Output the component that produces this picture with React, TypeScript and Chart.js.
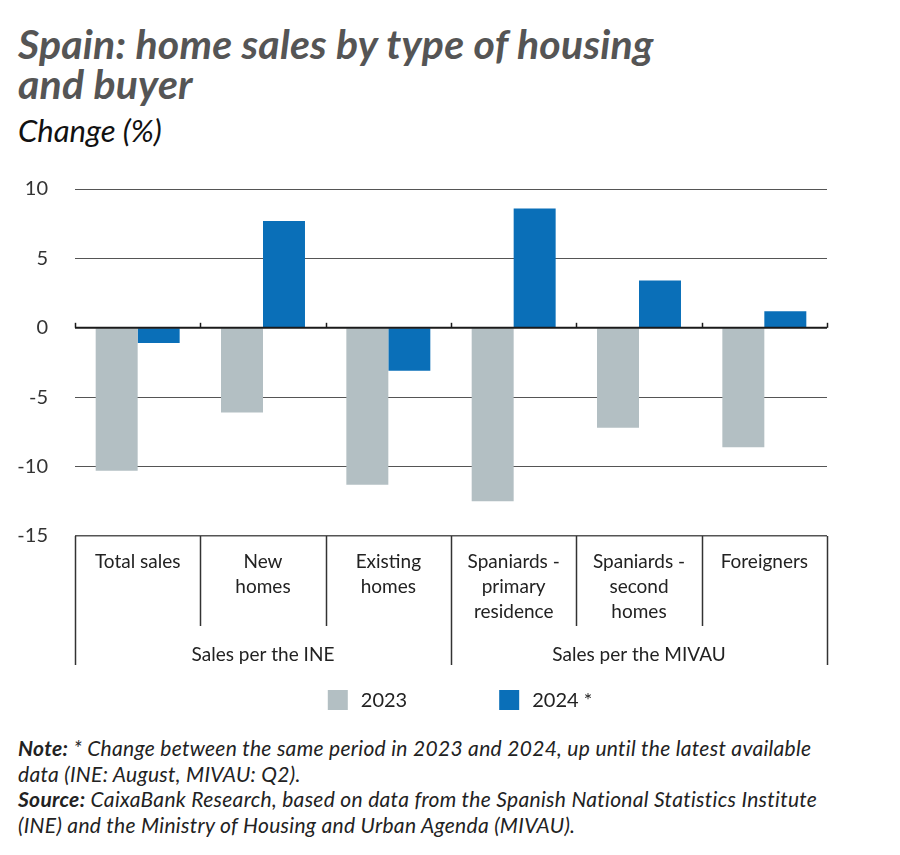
import React, { useEffect, useRef } from "react";
import { Chart, registerables } from "chart.js";

Chart.register(...registerables);

const categories: string[][] = [
  ["Total sales"],
  ["New", "homes"],
  ["Existing", "homes"],
  ["Spaniards -", "primary", "residence"],
  ["Spaniards -", "second", "homes"],
  ["Foreigners"],
];
const groupLabels = ["Sales per the INE", "Sales per the MIVAU"];
const groupSizes = [3, 3];
const values2023 = [-10.3, -6.1, -11.3, -12.5, -7.2, -8.6];
const values2024 = [-1.1, 7.7, -3.1, 8.6, 3.4, 1.2];
const seriesNames = ["2023", "2024 *"];
const seriesColors = ["#b3bfc3", "#0a6fb8"];
const yMin = -15;
const yMax = 10;
const yStep = 5;

const FONT = "Lato, 'Noto Sans', sans-serif";

const customPlugin = {
  id: "customDecor",
  afterDatasetsDraw(chart: any) {
    const { ctx, chartArea } = chart;
    const xs = chart.scales.x;
    const ys = chart.scales.y;
    const n = categories.length;
    const half = (xs.getPixelForValue(1) - xs.getPixelForValue(0)) / 2;
    const bnd = (i: number) =>
      i < n ? xs.getPixelForValue(i) - half : xs.getPixelForValue(n - 1) + half;
    const y0 = ys.getPixelForValue(0);
    ctx.save();
    // zero line
    ctx.strokeStyle = "#1a1a1a";
    ctx.lineWidth = 2;
    ctx.beginPath();
    ctx.moveTo(chartArea.left, y0);
    ctx.lineTo(chartArea.right, y0);
    ctx.stroke();
    // ticks on zero line
    ctx.lineWidth = 1.5;
    for (let i = 0; i <= n; i++) {
      const x = Math.round(bnd(i)) + 0.5;
      ctx.beginPath();
      ctx.moveTo(x, y0);
      ctx.lineTo(x, y0 - 5);
      ctx.stroke();
    }
    // separators below axis
    const bottom = chartArea.bottom;
    const groupEdges = new Set<number>([0]);
    let acc = 0;
    groupSizes.forEach((g) => {
      acc += g;
      groupEdges.add(acc);
    });
    ctx.strokeStyle = "#333";
    ctx.lineWidth = 1.5;
    for (let i = 0; i <= n; i++) {
      const x = Math.round(bnd(i)) + 0.5;
      const len = groupEdges.has(i) ? 129 : 90;
      ctx.beginPath();
      ctx.moveTo(x, bottom);
      ctx.lineTo(x, bottom + len);
      ctx.stroke();
    }
    // category labels
    ctx.fillStyle = "#222";
    ctx.font = `19px ${FONT}`;
    ctx.textAlign = "center";
    ctx.textBaseline = "middle";
    categories.forEach((lines, i) => {
      const cx = xs.getPixelForValue(i);
      lines.forEach((ln, j) => {
        ctx.fillText(ln, cx, bottom + 26 + j * 25);
      });
    });
    // group labels
    let start = 0;
    groupSizes.forEach((g, k) => {
      const cx = (bnd(start) + bnd(start + g)) / 2;
      ctx.fillText(groupLabels[k], cx, bottom + 119);
      start += g;
    });
    // legend
    ctx.font = `20px ${FONT}`;
    ctx.textAlign = "left";
    const box = 20;
    const gapText = 13;
    const gapItems = 92;
    const widths = seriesNames.map((s) => box + gapText + ctx.measureText(s).width);
    const total = widths.reduce((a, b) => a + b, 0) + gapItems * (widths.length - 1);
    let lx = (chartArea.left + chartArea.right) / 2 - total / 2 + 9;
    const ly = bottom + 164;
    seriesNames.forEach((s, k) => {
      ctx.fillStyle = seriesColors[k];
      ctx.fillRect(lx, ly - box / 2, box, box);
      ctx.fillStyle = "#222";
      ctx.fillText(s, lx + box + gapText, ly + 1);
      lx += widths[k] + gapItems;
    });
    ctx.restore();
  },
};

function ChartCanvas() {
  const ref = useRef<HTMLCanvasElement | null>(null);
  useEffect(() => {
    if (!ref.current) return;
    const chart = new Chart(ref.current, {
      type: "bar",
      data: {
        labels: categories.map((c) => c.join(" ")),
        datasets: [
          {
            label: seriesNames[0],
            data: values2023,
            backgroundColor: seriesColors[0],
            borderWidth: 0,
            categoryPercentage: 0.67,
            barPercentage: 1.0,
          },
          {
            label: seriesNames[1],
            data: values2024,
            backgroundColor: seriesColors[1],
            borderWidth: 0,
            categoryPercentage: 0.67,
            barPercentage: 1.0,
          },
        ],
      },
      options: {
        responsive: false,
        animation: false,
        layout: { padding: { top: 18, right: 73, left: 0, bottom: 0 } },
        plugins: {
          legend: { display: false },
          tooltip: { enabled: false },
          title: { display: false },
        },
        scales: {
          x: {
            ticks: { display: false },
            grid: { display: false },
            border: { display: false },
            afterFit: (s: any) => {
              s.height = 184;
            },
          },
          y: {
            min: yMin,
            max: yMax,
            ticks: {
              stepSize: yStep,
              padding: 27,
              color: "#333",
              font: { family: FONT, size: 20 },
            },
            grid: {
              drawTicks: false,
              color: (c: any) => (c.tick && c.tick.value === 0 ? "rgba(0,0,0,0)" : "#555"),
              lineWidth: (c: any) => (c.tick && c.tick.value === yMin ? 1.5 : 1),
            },
            border: { display: false },
            afterFit: (s: any) => {
              s.width = 75;
            },
          },
        },
      },
      plugins: [customPlugin],
    });
    return () => chart.destroy();
  }, []);
  return <canvas ref={ref} width={900} height={570} style={{ display: "block" }} />;
}

export default function App() {
  useEffect(() => {
    document.body.style.margin = "0";
  }, []);
  return (
    <div style={{ position: "relative", width: 900, height: 855, background: "#fff", fontFamily: FONT, overflow: "hidden" }}>
      <div
        style={{
          position: "absolute",
          left: 18,
          top: 24,
          fontSize: 41,
          lineHeight: "40px",
          fontWeight: 700,
          fontStyle: "italic",
          color: "#555",
          letterSpacing: "0.2px",
          whiteSpace: "nowrap",
        }}
      >
        Spain: home sales by type of housing
        <br />
        and buyer
      </div>
      <div
        style={{
          position: "absolute",
          left: 18,
          top: 112,
          fontSize: 31,
          lineHeight: "36px",
          fontStyle: "italic",
          color: "#111",
        }}
      >
        Change (%)
      </div>
      <div style={{ position: "absolute", left: 0, top: 150 }}>
        <ChartCanvas />
      </div>
      <div
        style={{
          position: "absolute",
          left: 18,
          top: 735,
          width: 882,
          fontSize: 21,
          lineHeight: "25.5px",
          fontStyle: "italic",
          color: "#222",
          letterSpacing: "0.3px",
          whiteSpace: "nowrap",
        }}
      >
        <b>Note:</b> * Change between the same period in 2023 and 2024, up until the latest available
        <br />
        data (INE: August, MIVAU: Q2).
        <br />
        <b>Source:</b> CaixaBank Research, based on data from the Spanish National Statistics Institute
        <br />
        (INE) and the Ministry of Housing and Urban Agenda (MIVAU).
      </div>
    </div>
  );
}
